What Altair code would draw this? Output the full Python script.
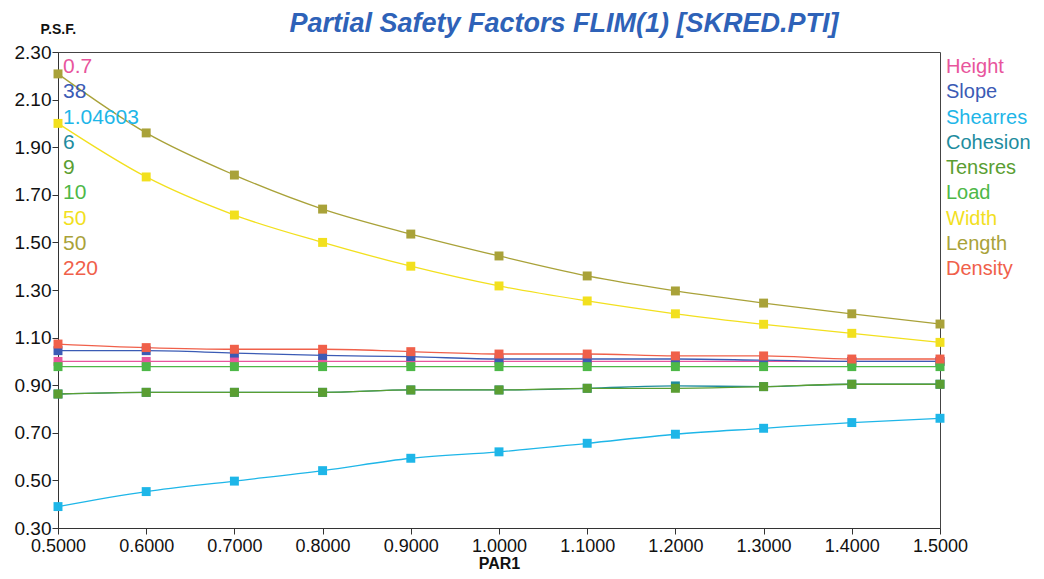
import altair as alt
import pandas as pd

par1 = [0.5, 0.6, 0.7, 0.8, 0.9, 1.0, 1.1, 1.2, 1.3, 1.4, 1.5]

height  = [1.00, 1.00, 1.00, 1.00, 1.00, 1.00, 1.00, 1.00, 1.00, 1.00, 1.00]
slope   = [1.045, 1.045, 1.035, 1.025, 1.02, 1.01, 1.01, 1.01, 1.005, 1.00, 1.00]
shearres = [0.39, 0.453, 0.497, 0.541, 0.593, 0.62, 0.656, 0.694, 0.719, 0.743, 0.761]
cohesion = [0.863, 0.870, 0.870, 0.870, 0.880, 0.880, 0.887, 0.897, 0.894, 0.904, 0.904]
tensres = [0.863, 0.870, 0.870, 0.870, 0.880, 0.880, 0.887, 0.887, 0.894, 0.904, 0.904]
load    = [0.978, 0.978, 0.978, 0.978, 0.978, 0.978, 0.978, 0.978, 0.978, 0.978, 0.978]
width_  = [2.00, 1.775, 1.615, 1.50, 1.40, 1.317, 1.254, 1.20, 1.156, 1.118, 1.08]
length  = [2.208, 1.96, 1.783, 1.64, 1.535, 1.443, 1.359, 1.296, 1.245, 1.20, 1.157]
density = [1.073, 1.058, 1.051, 1.051, 1.041, 1.031, 1.031, 1.023, 1.023, 1.01, 1.01]

series_names = ["Height", "Slope", "Shearres", "Cohesion", "Tensres", "Load", "Width", "Length", "Density"]
series_values = [height, slope, shearres, cohesion, tensres, load, width_, length, density]
param_labels = ["0.7", "38", "1.04603", "6", "9", "10", "50", "50", "220"]
colors = ["#E8559C", "#3B5BB5", "#1EB6E8", "#1E8C9E", "#5A9E32", "#4DB848", "#F2E01E", "#A9A239", "#F0604A"]

rows = []
for i, (name, vals) in enumerate(zip(series_names, series_values)):
    for x, v in zip(par1, vals):
        rows.append({"PAR1": x, "PSF": v, "series": name, "order": i})
df = pd.DataFrame(rows)

lab = pd.DataFrame({"series": series_names, "param": param_labels, "idx": list(range(9))})

color_scale = alt.Scale(domain=series_names, range=colors)

x_enc = alt.X("PAR1:Q",
              scale=alt.Scale(domain=[0.5, 1.5], nice=False, zero=False),
              axis=alt.Axis(values=par1, format=".4f", title="PAR1", grid=False,
                            labelFontSize=18, labelColor="#111", titleFontSize=16,
                            titleFontWeight="bold", titleColor="#111", titlePadding=0,
                            tickColor="#333", domainColor="#333", tickSize=6,
                            labelFlush=False, labelPadding=3,
                            labelFont="Liberation Sans", titleFont="Liberation Sans"))
y_enc = alt.Y("PSF:Q",
              scale=alt.Scale(domain=[0.3, 2.3], nice=False, zero=False),
              axis=alt.Axis(values=[0.3, 0.5, 0.7, 0.9, 1.1, 1.3, 1.5, 1.7, 1.9, 2.1, 2.3],
                            format=".2f", title="P.S.F.", grid=False,
                            labelFontSize=19, labelColor="#111", titleFontSize=14,
                            titleFontWeight="bold", titleColor="#111", titleAngle=0,
                            titleX=-18, titleY=-16, titleAlign="left",
                            tickColor="#333", domainColor="#333", tickSize=6,
                            labelFlush=False, labelPadding=1,
                            labelFont="Liberation Sans", titleFont="Liberation Sans"))

base = alt.Chart(df).encode(
    x=x_enc, y=y_enc,
    color=alt.Color("series:N", scale=color_scale, legend=None),
    detail="series:N",
    order=alt.Order("order:Q"),
)

lines = base.mark_line(interpolate="monotone", strokeWidth=1.3)
points = base.mark_square(size=80, opacity=1)
data_layer = alt.layer(lines, points)

ypos = alt.Y("idx:O", axis=None, scale=alt.Scale(range=[15, 217], padding=0))

left_labels = alt.Chart(lab).mark_text(align="left", baseline="middle", fontSize=21,
                                       font="Liberation Sans").encode(
    x=alt.value(5), y=ypos, text="param:N",
    color=alt.Color("series:N", scale=color_scale, legend=None))

right_labels = alt.Chart(lab).mark_text(align="left", baseline="middle", fontSize=20,
                                        font="Liberation Sans").encode(
    x=alt.value(888), y=ypos, text="series:N",
    color=alt.Color("series:N", scale=color_scale, legend=None))

label_layer = alt.layer(left_labels, right_labels)

chart = alt.layer(data_layer, label_layer).resolve_scale(
    y="independent"
).properties(
    width=882, height=476,
    padding={"left": 50, "top": 44, "right": 92, "bottom": 43},
    autosize=alt.AutoSizeParams(type="none"),
    title=alt.TitleParams("Partial Safety Factors FLIM(1) [SKRED.PTI]",
                          anchor="middle", dx=65, offset=-16, fontSize=27,
                          fontWeight="bold", fontStyle="italic", color="#2E62B8",
                          font="Liberation Sans"),
    background="white",
).configure_view(stroke="#444", strokeWidth=1)

chart.save("out.html", embed_options={"renderer": "svg", "actions": False})
